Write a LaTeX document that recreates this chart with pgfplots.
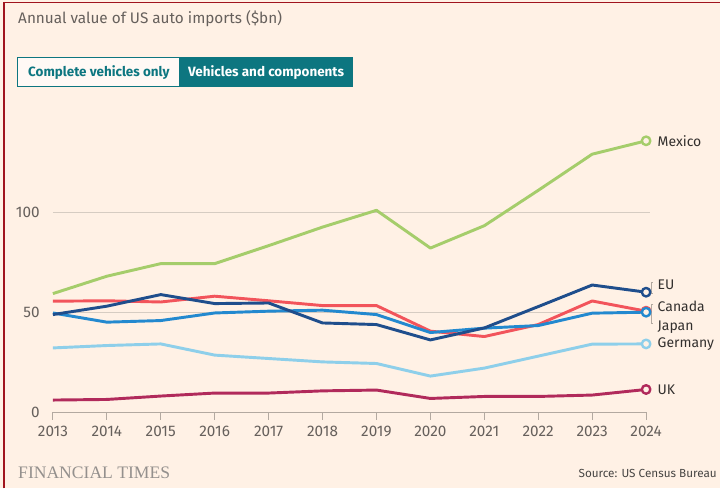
\documentclass[border=0pt]{standalone}
\usepackage{pgfplots}
\pgfplotsset{compat=1.18}
\usepackage{fontspec}
\setmainfont{Fira Sans}
\newfontfamily\ftserif{Liberation Serif}
\definecolor{bg}{HTML}{FFF1E5}
\definecolor{cMex}{HTML}{A5CD6B}
\definecolor{cCan}{HTML}{F2545B}
\definecolor{cEU}{HTML}{1F4E8C}
\definecolor{cJap}{HTML}{2389CF}
\definecolor{cGer}{HTML}{8ECFEA}
\definecolor{cUK}{HTML}{B12A5B}
\definecolor{teal}{HTML}{0D7680}
\definecolor{txtgray}{HTML}{66605C}
\definecolor{lbl}{HTML}{33302E}
\definecolor{gridc}{HTML}{D6CCC2}
\definecolor{axc}{HTML}{B3A9A0}
\definecolor{bordr}{HTML}{A0141E}

\pgfplotstableread{
year Mexico Canada EU Japan Germany UK
2013 59.5 55.7 49.0 49.8 32.3 6.2
2014 68.2 55.9 53.2 45.2 33.5 6.5
2015 74.5 55.3 59.0 46.0 34.3 8.2
2016 74.5 58.2 54.5 49.8 28.7 9.7
2017 83.5 55.9 54.8 50.7 27.0 9.7
2018 92.8 53.5 44.8 51.2 25.3 10.8
2019 101.2 53.5 44.0 49.0 24.5 11.2
2020 82.3 40.7 36.3 40.0 18.2 7.0
2021 93.5 38.0 42.3 42.2 22.2 8.0
2022 111.2 44.0 53.0 43.5 28.2 8.0
2023 129.3 55.8 63.8 49.7 34.2 8.7
2024 136.0 50.7 60.2 50.2 34.3 11.5
}\datatable

\begin{document}
\begin{tikzpicture}
\begin{scope}[x=0.75pt,y=-0.75pt]
\fill[bg] (0,0) rectangle (721,489);
\draw[bordr,line width=1.5pt] (4.5,489) -- (4.5,2.5) -- (721,2.5);
\node[anchor=west,text=txtgray,font=\fontsize{11.5}{13}\selectfont,inner sep=0pt] at (18,19) {Annual value of US auto imports (\$bn)};
\fill[teal] (179,58) rectangle (353,87);
\fill[white!60!bg] (18,58) rectangle (179,87);
\draw[teal,line width=0.75pt] (18,58) rectangle (353,87);
\node[text=teal,font=\fontsize{10.1}{11}\selectfont\bfseries,inner sep=0pt] at (99,73) {Complete vehicles only};
\node[text=white,font=\fontsize{10.1}{11}\selectfont\bfseries,inner sep=0pt] at (266.5,73) {Vehicles and components};
\node[anchor=west,text=txtgray!70,font=\ftserif\fontsize{13.2}{15}\selectfont,inner sep=0pt] at (18,473) {FINANCIAL TIMES};
\node[anchor=east,text=lbl!90,font=\fontsize{8.8}{10}\selectfont,inner sep=0pt] at (718,474) {Source: US Census Bureau};
\end{scope}

\begin{axis}[
  at={(39.75pt,-309.75pt)}, anchor=origin,
  scale only axis,
  width=445.5pt, height=210pt,
  xmin=2013, xmax=2024, ymin=0, ymax=140,
  axis x line=bottom, axis y line=left,
  x axis line style={axc,line width=0.75pt,-},
  y axis line style={draw=none},
  xtick={2013,...,2024},
  x tick label style={/pgf/number format/1000 sep={}},
  xtick style={axc,line width=0.75pt},
  ytick style={draw=none},
  tick align=outside,
  major tick length=5.5pt,
  ytick={0,50,100},
  ymajorgrids, grid style={gridc,line width=0.75pt},
  tick label style={text=txtgray,font=\fontsize{11.5}{13}\selectfont},
  /pgf/number format/assume math mode=true,
  yticklabel style={xshift=-1pt},
  xticklabel style={yshift=-1pt},
  clip=false,
  every axis plot/.append style={line width=2.2pt, line join=round},
]
\draw[gridc,line width=0.75pt] (axis cs:2024,50) -- ([xshift=3pt]axis cs:2024,50);
\draw[gridc,line width=0.75pt] (axis cs:2024,100) -- ([xshift=3pt]axis cs:2024,100);
\addplot[cUK] table[x=year,y=UK] {\datatable};
\addplot[cGer] table[x=year,y=Germany] {\datatable};
\addplot[cCan] table[x=year,y=Canada] {\datatable};
\addplot[cJap] table[x=year,y=Japan] {\datatable};
\addplot[cEU] table[x=year,y=EU] {\datatable};
\addplot[cMex] table[x=year,y=Mexico] {\datatable};
\addplot[cMex,only marks,mark=*,mark size=3.2pt,mark options={fill=bg,line width=1.8pt}] coordinates {(2024,136.0)};
\addplot[cEU,only marks,mark=*,mark size=3.2pt,mark options={fill=bg,line width=1.8pt}] coordinates {(2024,60.2)};
\addplot[cCan,only marks,mark=*,mark size=3.2pt,mark options={fill=bg,line width=1.8pt}] coordinates {(2024,50.7)};
\addplot[cJap,only marks,mark=*,mark size=3.2pt,mark options={fill=bg,line width=1.8pt}] coordinates {(2024,50.2)};
\addplot[cGer,only marks,mark=*,mark size=3.2pt,mark options={fill=bg,line width=1.8pt}] coordinates {(2024,34.3)};
\addplot[cUK,only marks,mark=*,mark size=3.2pt,mark options={fill=bg,line width=1.8pt}] coordinates {(2024,11.5)};
\begin{scope}[every node/.style={anchor=west,text=lbl,font=\fontsize{10.5}{12}\selectfont,inner sep=0pt}]
\node at ([xshift=8.5pt]axis cs:2024,136) {Mexico};
\node at ([xshift=8.5pt]axis cs:2024,64) {EU};
\node at ([xshift=8.5pt]axis cs:2024,53) {Canada};
\node at ([xshift=8.5pt]axis cs:2024,42.5) {Japan};
\node at ([xshift=8.5pt]axis cs:2024,34.3) {Germany};
\node at ([xshift=8.5pt]axis cs:2024,11.5) {UK};
\end{scope}
\draw[axc,line width=0.6pt] ([xshift=5pt]axis cs:2024,59.5) -- ([xshift=4.2pt]axis cs:2024,59.5) -- ([xshift=4.2pt]axis cs:2024,65) -- ([xshift=5.5pt]axis cs:2024,65);
\draw[axc,line width=0.6pt] ([xshift=5.5pt]axis cs:2024,54.2) -- ([xshift=4.2pt]axis cs:2024,54.2) -- ([xshift=4.2pt]axis cs:2024,44.5) -- ([xshift=5pt]axis cs:2024,44.5);
\end{axis}
\end{tikzpicture}
\end{document}
